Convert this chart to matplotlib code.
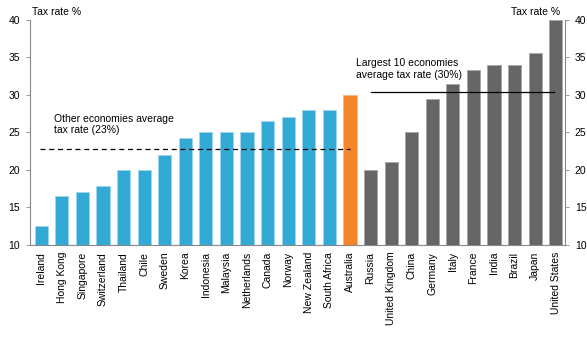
import numpy as np
from matplotlib import pyplot as plt

# Data
countries = ['Ireland', 'Hong Kong', 'Singapore', 'Switzerland', 'Thailand', 'Chile',
             'Sweden', 'Korea', 'Indonesia', 'Malaysia', 'Netherlands', 'Canada',
             'Norway', 'New Zealand', 'South Africa', 'Australia', 'Russia',
             'United Kingdom', 'China', 'Germany', 'Italy', 'France', 'India',
             'Brazil', 'Japan', 'United States']
rates = [12.5, 16.5, 17.0, 17.9, 20.0, 20.0, 22.0, 24.2, 25.0, 25.0, 25.0, 26.5,
         27.0, 28.0, 28.0, 30.0, 20.0, 21.0, 25.0, 29.5, 31.4, 33.3, 34.0, 34.0,
         35.6, 40.0]
groups = ['other'] * 15 + ['aus'] + ['large'] * 10
other_avg = 22.8
large_avg = 30.4

colours = {'other': '#33A9D6', 'aus': '#F5852A', 'large': '#666666'}
edges = {'other': '#9FD6EE', 'aus': '#F9B47A', 'large': '#A6A6A6'}

plt.rcParams['font.family'] = ['Liberation Sans', 'DejaVu Sans']

fig = plt.figure(figsize=(5.87, 3.44), dpi=100)
ax = fig.add_axes([0.051, 0.288, 0.9115, 0.654])

x = np.arange(len(countries))
ax.bar(x, np.array(rates) - 10, bottom=10, width=0.64,
       color=[colours[g] for g in groups],
       edgecolor=[edges[g] for g in groups], linewidth=0.6, zorder=2)

ax.plot([-0.05, 15.0], [other_avg, other_avg], color='black', lw=0.9,
        ls=(0, (4, 3)), zorder=3)
ax.plot([16.0, 24.9], [large_avg, large_avg], color='black', lw=0.9, zorder=3)

ax.text(0.6, 24.6, 'Other economies average\ntax rate (23%)', fontsize=7.5,
        va='bottom', ha='left', linespacing=1.2)
ax.text(15.3, 32.0, 'Largest 10 economies\naverage tax rate (30%)', fontsize=7.5,
        va='bottom', ha='left', linespacing=1.2)

ax.set_xlim(-0.55, 25.45)
ax.set_ylim(10, 40)
ax.set_yticks([10, 15, 20, 25, 30, 35, 40])
ax.tick_params(axis='y', labelsize=7.5, length=3, width=0.6, color='#888888',
               left=True, right=True, labelleft=True, labelright=True, pad=4)
ax.set_xticks(x)
ax.set_xticklabels(countries, rotation=90, fontsize=7.5)
ax.tick_params(axis='x', length=0, pad=5)

for side in ['left', 'right', 'bottom']:
    ax.spines[side].set_color('#888888')
    ax.spines[side].set_linewidth(0.8)
ax.spines['top'].set_visible(False)

fig.text(0.055, 0.965, 'Tax rate %', fontsize=7.5, ha='left', va='center')
fig.text(0.955, 0.965, 'Tax rate %', fontsize=7.5, ha='right', va='center')

fig.savefig('out.png', dpi=100)
